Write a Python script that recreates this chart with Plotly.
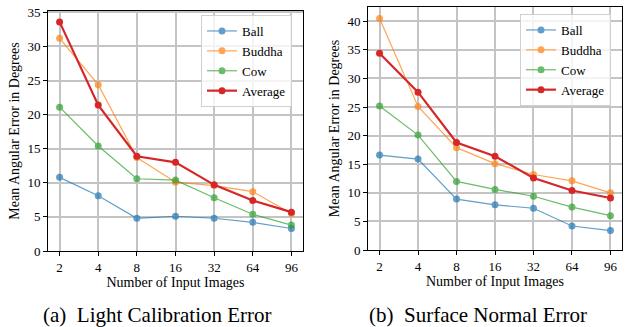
import plotly.graph_objects as go

x_labels = ["2", "4", "8", "16", "32", "64", "96"]
series_names = ["Ball", "Buddha", "Cow", "Average"]

# (a) Light Calibration Error
light_ball = [10.8, 8.1, 4.8, 5.1, 4.8, 4.2, 3.3]
light_buddha = [31.2, 24.4, 13.7, 10.1, 9.6, 8.7, 5.5]
light_cow = [21.1, 15.4, 10.6, 10.4, 7.8, 5.4, 3.8]
light_avg = [33.6, 21.4, 13.9, 13.0, 9.7, 7.4, 5.7]

# (b) Surface Normal Error
normal_ball = [16.6, 15.9, 8.9, 7.9, 7.3, 4.2, 3.4]
normal_buddha = [40.5, 25.1, 17.9, 15.1, 13.2, 12.1, 10.0]
normal_cow = [25.2, 20.1, 12.0, 10.6, 9.4, 7.5, 6.0]
normal_avg = [34.4, 27.6, 18.8, 16.4, 12.6, 10.4, 9.1]

colors = ["#1f77b4", "#ff7f0e", "#2ca02c", "#d62728"]
alphas = [0.7, 0.7, 0.7, 1.0]
widths = [1.2, 1.2, 1.2, 2.2]

FONT = "Liberation Serif, Times New Roman, serif"
W, H = 626, 327

fig = go.Figure()

def add_panel(values, xa, ya, legend):
    for name, vals, c, a, w in zip(series_names, values, colors, alphas, widths):
        fig.add_trace(go.Scatter(
            x=x_labels, y=vals, name=name, mode="lines+markers",
            line=dict(color=c, width=w), marker=dict(color=c, size=7),
            opacity=a, xaxis=xa, yaxis=ya, legend=legend,
        ))

add_panel([light_ball, light_buddha, light_cow, light_avg], "x", "y", "legend")
add_panel([normal_ball, normal_buddha, normal_cow, normal_avg], "x2", "y2", "legend2")

axis_common = dict(
    showline=True, mirror=True, linecolor="black", linewidth=1,
    showgrid=True, gridcolor="#c4c4c4", gridwidth=1.5,
    ticks="outside", ticklen=4, tickcolor="black",
    tickfont=dict(family=FONT, size=13, color="black"),
    zeroline=False, automargin=False,
)
title_font = dict(family=FONT, size=14, color="black")
legend_common = dict(xanchor="left", yanchor="top",
                     bgcolor="rgba(255,255,255,0.8)", bordercolor="#d0d0d0", borderwidth=1,
                     font=dict(family=FONT, size=13, color="black"),
                     tracegroupgap=0, itemwidth=30)

fig.update_layout(
    width=W, height=H,
    margin=dict(l=0, r=0, t=0, b=0),
    paper_bgcolor="white", plot_bgcolor="white",
    font=dict(family=FONT, color="black"),
    xaxis=dict(domain=[48 / W, 303 / W], anchor="y", type="category",
               range=[-0.3, 6.3],
               title=dict(text="Number of Input Images", font=title_font, standoff=2),
               **axis_common),
    yaxis=dict(domain=[1 - 251 / H, 1 - 11 / H], anchor="x", range=[0, 35.2],
               tickvals=[0, 5, 10, 15, 20, 25, 30, 35],
               title=dict(text="Mean Angular Error in Degrees", font=title_font, standoff=4),
               **axis_common),
    xaxis2=dict(domain=[368 / W, 622 / W], anchor="y2", type="category",
                range=[-0.3, 6.3],
                title=dict(text="Number of Input Images", font=title_font, standoff=2),
                **axis_common),
    yaxis2=dict(domain=[1 - 250 / H, 1 - 7 / H], anchor="x2", range=[0, 42.5],
                tickvals=[0, 5, 10, 15, 20, 25, 30, 35, 40],
                title=dict(text="Mean Angular Error in Degrees", font=title_font, standoff=4),
                **axis_common),
    legend=dict(x=201 / W, y=1 - 15 / H, **legend_common),
    legend2=dict(x=520 / W, y=1 - 14 / H, **legend_common),
    annotations=[
        dict(text="(a)  Light Calibration Error", x=157 / W, y=1 - 315 / H,
             xref="paper", yref="paper", showarrow=False, xanchor="center", yanchor="middle",
             font=dict(family=FONT, size=21, color="black")),
        dict(text="(b)  Surface Normal Error", x=477.5 / W, y=1 - 315 / H,
             xref="paper", yref="paper", showarrow=False, xanchor="center", yanchor="middle",
             font=dict(family=FONT, size=21, color="black")),
    ],
)

fig.write_html("out.html", config={"displayModeBar": False},
               post_script="document.body.style.margin='0';document.body.style.overflow='hidden';")
